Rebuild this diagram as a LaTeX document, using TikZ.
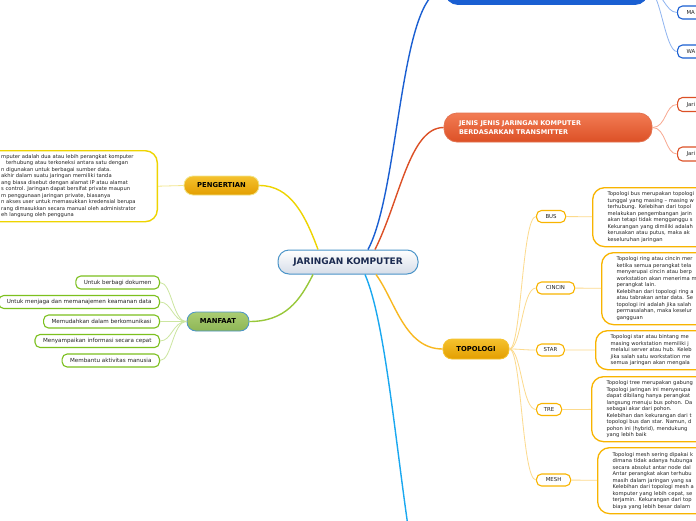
\documentclass[tikz,border=0pt]{standalone}
\usepackage{fontspec}
\setmainfont{DejaVu Sans}
\usetikzlibrary{positioning}

\definecolor{rootline}{HTML}{4A94C8}
\definecolor{rootfill}{HTML}{D6DDE8}
\definecolor{roottext}{HTML}{1A2A50}
\definecolor{netblue}{HTML}{1A5FD2}
\definecolor{netbluelight}{HTML}{8FB4F0}
\definecolor{transorange}{HTML}{DC5026}
\definecolor{transorangetop}{HTML}{F27C54}
\definecolor{transorangelight}{HTML}{F8A890}
\definecolor{topogold}{HTML}{E39E00}
\definecolor{topogoldtop}{HTML}{F5C22E}
\definecolor{topoline}{HTML}{F8B820}
\definecolor{topolight}{HTML}{FCDA8C}
\definecolor{topoborder}{HTML}{F8B400}
\definecolor{defyellow}{HTML}{EED400}
\definecolor{deflight}{HTML}{F2E68C}
\definecolor{usegreen}{HTML}{8EB656}
\definecolor{usegreentop}{HTML}{AACD72}
\definecolor{useline}{HTML}{98C83A}
\definecolor{uselight}{HTML}{CCE6A0}
\definecolor{useborder}{HTML}{7CC01E}
\definecolor{cyanline}{HTML}{1AA8F0}
\definecolor{bodytext}{HTML}{222222}

\begin{document}
\begin{tikzpicture}[x=1pt, y=-1pt,
    mainnode/.style={draw=rootline, line width=1pt, rounded corners=11pt,
      top color=white, bottom color=rootfill, minimum width=140pt,
      minimum height=24pt, inner sep=0pt, text=roottext,
      font=\bfseries\fontsize{9}{10}\selectfont},
    topicnode/.style={rounded corners=9pt, line width=0.8pt, minimum height=19pt,
      inner sep=0pt, font=\bfseries\fontsize{6.8}{8}\selectfont},
    labelnode/.style={draw, fill=white, rounded corners=5pt, line width=1.1pt,
      minimum height=12pt, inner xsep=7pt, inner ysep=0pt, text=bodytext,
      font=\fontsize{5.4}{6}\selectfont},
    detailnode/.style={draw=topoborder, fill=white, rounded corners=12pt,
      line width=1.3pt, anchor=north west, text width=130pt, align=left,
      inner xsep=15pt, inner ysep=4pt, text=bodytext,
      font=\fontsize{5.2}{6.5}\selectfont},
    mainline/.style={line width=1.4pt},
    subline/.style={line width=0.8pt}]
  \useasboundingbox (0,0) rectangle (696,520);
  \fill[white] (0,0) rectangle (696,520);
  \clip (0,0) rectangle (696,520);

  % pusat
  \node[mainnode] (jaringan) at (348,262) {JARINGAN KOMPUTER};

  % cabang kanan
  \node[topicnode, draw=netblue, fill=netblue, minimum width=203pt,
    minimum height=30pt, rounded corners=13pt] (lingkup) at (546.5,-10.5) {};
  \node[topicnode, draw=transorange!80!white, top color=transorangetop,
    bottom color=transorange, minimum width=208pt, minimum height=29pt,
    rounded corners=13pt, text=white, text width=178pt, align=left,
    font=\bfseries\fontsize{6.5}{9.7}\selectfont] (transmitter) at (548,127.5)
    {JENIS JENIS JARINGAN KOMPUTER\\BERDASARKAN TRANSMITTER};
  \node[topicnode, draw=topogoldtop, top color=topogoldtop, bottom color=topogold,
    minimum width=66pt, minimum height=20pt] (topologi) at (476,349) {TOPOLOGI};
  \coordinate (bawah) at (410,540);

  % cabang kiri
  \node[topicnode, draw=deflight, top color=topogoldtop, bottom color=topogold,
    minimum width=75pt] (pengertian) at (221.5,185.5) {PENGERTIAN};
  \node[topicnode, draw=rootline, top color=usegreentop, bottom color=usegreen,
    minimum width=62pt] (manfaat) at (218,321.5) {MANFAAT};

  \draw[mainline, netblue] ([xshift=20pt]jaringan.north) .. controls +(32,-60) and +(-45,0) .. (lingkup.west);
  \draw[mainline, transorange] ([xshift=27pt]jaringan.north) .. controls +(25,-50) and +(-34,0) .. (transmitter.west);
  \draw[mainline, topoline] ([xshift=28pt]jaringan.south) .. controls +(19,26) and +(-38,0) .. (topologi.west);
  \draw[mainline, cyanline] ([xshift=17pt]jaringan.south) .. controls +(20,46) and +(-15,-100) .. (bawah);
  \draw[mainline, defyellow] ([xshift=-30pt]jaringan.north) .. controls +(-13,-35) and +(31,0) .. (pengertian.east);
  \draw[mainline, useline] ([xshift=-35pt]jaringan.south) .. controls +(-13,26) and +(36,0) .. (manfaat.east);

  % lingkup jaringan
  \node[labelnode, draw=netblue, anchor=west, text width=30pt, align=left,
    inner xsep=9pt, minimum height=13pt] (man) at (677,12.5) {MA};
  \node[labelnode, draw=netblue, anchor=west, text width=30pt, align=left,
    inner xsep=9pt, minimum height=13pt] (wan) at (677,51.5) {WA};
  \draw[subline, netbluelight] (lingkup.east) .. controls +(14,0) and +(-12,0) .. (man.west);
  \draw[subline, netbluelight] (lingkup.east) .. controls +(12,0) and +(-12,0) .. (wan.west);

  % transmitter
  \node[labelnode, draw=transorange, anchor=west, text width=30pt, align=left,
    inner xsep=9pt, minimum height=14pt] (kabel) at (677,104.5) {Jari};
  \node[labelnode, draw=transorange, anchor=west, text width=30pt, align=left,
    inner xsep=9pt, minimum height=14pt] (nirkabel) at (677,154) {Jari};
  \draw[subline, transorangelight] (transmitter.east) .. controls +(14,0) and +(-12,0) .. (kabel.west);
  \draw[subline, transorangelight] (transmitter.east) .. controls +(14,0) and +(-12,0) .. (nirkabel.west);

  % topologi
  \node[labelnode, draw=topoborder, anchor=west, minimum width=29pt] (bus) at (536,216.5) {BUS};
  \node[labelnode, draw=topoborder, anchor=west, minimum width=38pt] (cincin) at (536,288) {CINCIN};
  \node[labelnode, draw=topoborder, anchor=west, minimum width=27pt] (star) at (536,350) {STAR};
  \node[labelnode, draw=topoborder, anchor=west, minimum width=25pt] (tre) at (536,409.5) {TRE};
  \node[labelnode, draw=topoborder, anchor=west, minimum width=34pt] (mesh) at (536,480) {MESH};
  \foreach \t in {bus,cincin,star,tre,mesh}
    \draw[subline, topolight] (topologi.east) .. controls +(12,0) and +(-14,0) .. (\t.west);

  \node[detailnode, minimum height=59pt] (busnote) at (592,187)
    {Topologi bus merupakan topologi\\
     tunggal yang masing – masing w\\
     terhubung. Kelebihan dari topol\\
     melakukan pengembangan jarin\\
     akan tetapi tidak mengganggu s\\
     Kekurangan yang dimiliki adalah\\
     kerusakan atau putus, maka ak\\
     keseluruhan jaringan};
  \node[detailnode, minimum height=72pt] (cincinnote) at (601,252)
    {Topologi ring atau cincin mer\\
     ketika semua perangkat tela\\
     menyerupai cincin atau berp\\
     workstation akan menerima m\\
     perangkat lain.\\
     Kelebihan dari topologi ring a\\
     atau tabrakan antar data. Se\\
     topologi ini adalah jika salah\\
     permasalahan, maka keselur\\
     gangguan};
  \node[detailnode, minimum height=39pt] (starnote) at (595,330)
    {Topologi star atau bintang me\\
     masing workstation memiliki j\\
     melalui server atau hub. Keleb\\
     jika salah satu workstation me\\
     semua jaringan akan mengala};
  \node[detailnode, minimum height=65pt] (trenote) at (591,376)
    {Topologi tree merupakan gabung\\
     Topologi jaringan ini menyerupa\\
     dapat dibilang hanya perangkat\\
     langsung menuju bus pohon. Da\\
     sebagai akar dari pohon.\\
     Kelebihan dan kekurangan dari t\\
     topologi bus dan star. Namun, d\\
     pohon ini (hybrid), mendukung\\
     yang lebih baik};
  \node[detailnode, minimum height=66pt] (meshnote) at (597,447)
    {Topologi mesh sering dipakai k\\
     dimana tidak adanya hubunga\\
     secara absolut antar node dal\\
     Antar perangkat akan terhubu\\
     masih dalam jaringan yang sa\\
     Kelebihan dari topologi mesh a\\
     komputer yang lebih cepat, se\\
     terjamin. Kekurangan dari top\\
     biaya yang lebih besar dalam};
  \draw[subline, topolight] (bus) -- (busnote);
  \draw[subline, topolight] (cincin) -- (cincinnote);
  \draw[subline, topolight] (star) -- (starnote);
  \draw[subline, topolight] (tre) -- (trenote);
  \draw[subline, topolight] (mesh) -- (meshnote);

  % pengertian
  \node[draw=defyellow, line width=1.4pt, rounded corners=12pt, fill=white,
    anchor=north east, minimum width=220pt, minimum height=71pt] (pengnote) at (158,150) {};
  \node[anchor=north west, inner sep=0pt, align=left, text=bodytext,
    font=\fontsize{5.2}{6.5}\selectfont] (pengtext) at (1,154)
    {mputer adalah dua atau lebih perangkat komputer\\
     \hspace{5pt}terhubung atau terkoneksi antara satu dengan\\
     n digunakan untuk berbagai sumber data.\\
     akhir dalam suatu jaringan memiliki tanda\\
     ang biasa disebut dengan alamat IP atau alamat\\
     s control. Jaringan dapat bersifat private maupun\\
     m penggunaan jaringan private, biasanya\\
     n akses user untuk memasukkan kredensial berupa\\
     rang dimasukkan secara manual oleh administrator\\
     eh langsung oleh pengguna};
  \draw[subline, deflight] (pengnote.east) -- (pengertian.west);

  % manfaat
  \node[labelnode, draw=useborder, anchor=east, inner xsep=8pt, minimum height=13pt,
    font=\fontsize{5.6}{6}\selectfont] (dokumen) at (160,282.5) {Untuk berbagi dokumen};
  \node[labelnode, draw=useborder, anchor=east, inner xsep=8pt, minimum height=13pt,
    font=\fontsize{5.6}{6}\selectfont] (keamanan) at (160,302) {Untuk menjaga dan memanajemen keamanan data};
  \node[labelnode, draw=useborder, anchor=east, inner xsep=8pt, minimum height=13pt,
    font=\fontsize{5.6}{6}\selectfont] (komunikasi) at (160,321.5) {Memudahkan dalam berkomunikasi};
  \node[labelnode, draw=useborder, anchor=east, inner xsep=8pt, minimum height=13pt,
    font=\fontsize{5.6}{6}\selectfont] (informasi) at (160,341) {Menyampaikan informasi secara cepat};
  \node[labelnode, draw=useborder, anchor=east, inner xsep=8pt, minimum height=13pt,
    font=\fontsize{5.6}{6}\selectfont] (aktivitas) at (160,360.5) {Membantu aktivitas manusia};
  \foreach \t in {dokumen,keamanan,komunikasi,informasi,aktivitas}
    \draw[subline, uselight] (manfaat.west) .. controls +(-14,0) and +(12,0) .. (\t.east);
\end{tikzpicture}
\end{document}
